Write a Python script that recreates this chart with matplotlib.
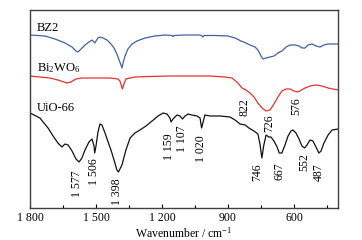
import matplotlib

matplotlib.use("Agg")
import matplotlib.pyplot as plt
from matplotlib.ticker import FixedLocator

# FT-IR spectra, intensity in arbitrary units (offset per sample)
uio_wn = [1800, 1755, 1718, 1695, 1673, 1655, 1641, 1627, 1609, 1591, 1577, 1564, 1550, 1532,
          1518, 1509, 1506, 1500, 1491, 1482, 1473, 1459, 1445, 1432, 1418, 1405, 1398, 1382,
          1364, 1345, 1323, 1300, 1273, 1245, 1218, 1195, 1177, 1164, 1159, 1150, 1132, 1118,
          1107, 1095, 1082, 1064, 1041, 1027, 1020, 1013, 1005, 982, 936, 891, 868, 845, 822,
          805, 782, 764, 754, 746, 738, 727, 714, 705, 691, 677, 667, 655, 641, 627, 614, 605,
          591, 577, 564, 552, 541, 527, 514, 500, 487, 477, 464, 445, 427, 400]
uio_val = [95, 90, 80, 72, 65, 61, 64, 63, 57, 49, 46, 50, 58, 66,
           69, 62, 55, 62, 76, 84, 83, 75, 66, 58, 48, 38, 36, 43,
           58, 70, 75, 78, 82, 87, 92, 95, 94, 90, 86, 89, 93, 92,
           89, 92, 94, 93, 92, 90, 80, 86, 93, 92, 92, 91, 88, 84, 83,
           80, 77, 74, 63, 50, 62, 73, 71, 71, 67, 61, 55, 55, 63, 72, 77, 78,
           75, 69, 62, 60, 63, 68, 67, 61, 55, 57, 65, 73, 78, 79]

bzw_wn = [1800, 1755, 1709, 1673, 1645, 1632, 1614, 1591, 1564, 1527, 1482, 1436, 1400, 1391,
          1384, 1380, 1373, 1364, 1323, 1255, 1164, 1073, 982, 914, 882, 855, 836, 818, 800,
          782, 764, 745, 727, 709, 691, 673, 655, 636, 618, 600, 586, 573, 550, 527, 500, 473,
          445, 423, 400]
bzw_val = [132, 131, 130, 128, 126, 125, 126, 129, 130, 130, 130, 130, 129, 127,
           122, 119, 124, 129, 131, 131.5, 132, 132, 132, 131, 130, 125, 120, 118, 115,
           111, 105, 100, 97, 98, 104, 111, 117, 119, 119, 117, 116, 117, 120, 122, 123, 122,
           120, 119, 118]

bz2_wn = [1800, 1732, 1686, 1641, 1609, 1591, 1582, 1568, 1550, 1532, 1518, 1509, 1505, 1500,
          1491, 1482, 1468, 1450, 1432, 1418, 1405, 1395, 1388, 1382, 1377, 1368, 1355, 1336,
          1314, 1277, 1232, 1186, 1155, 1150, 1145, 1095, 1027, 1018, 1014, 1009, 959, 900,
          868, 841, 818, 800, 777, 764, 750, 741, 727, 709, 691, 673, 655, 636, 618, 595, 577,
          564, 550, 536, 518, 500, 482, 464, 445, 400]
bz2_val = [173, 172, 169, 165, 161, 157, 156, 159, 163, 166, 168, 166, 165, 167,
           170, 171, 170, 168, 164, 160, 154, 148, 144, 140, 145, 152, 159, 164,
           167, 170, 172, 173, 172.5, 171.5, 172.5, 173, 173, 172, 171, 172.5, 172.5, 172,
           170, 167, 165, 163, 161, 158, 152, 149, 150, 151, 152, 155, 157, 161, 163, 163, 162,
           160, 160, 163, 164, 162, 161, 163, 164, 164]

# peak labels: text, wavenumber position, top of text (same units as intensity)
peak_text = ["1 577", "1 506", "1 398", "1 159", "1 107", "1 020", "822", "726", "576",
             "746", "667", "552", "487"]
peak_x = [1586, 1509, 1405, 1168, 1109, 1023, 823, 712, 591, 768, 668, 555, 486]
peak_y = [38, 50, 30, 75, 83, 73, 110, 94, 111, 45, 46, 55, 45]

sample_names = ["BZ2", "Bi$_2$WO$_6$", "UiO-66"]
sample_y = [180, 140, 100]

major_ticks = [1800, 1500, 1200, 900, 600]
major_labels = ["1 800", "1 500", "1 200", "900", "600"]
minor_ticks = [1650, 1350, 1050, 750, 450]

plt.rcParams.update({
    "font.family": ["Liberation Serif", "DejaVu Serif"],
    "mathtext.fontset": "custom",
    "mathtext.rm": "Liberation Serif",
    "mathtext.it": "Liberation Serif:italic",
    "mathtext.default": "regular",
    "font.size": 8.5,
})

fig = plt.figure(figsize=(3.62, 2.40), dpi=100)
ax = fig.add_axes([30 / 362, 32 / 240, 308 / 362, 198 / 240])

ax.plot(bz2_wn, bz2_val, color="#3F5FAE", lw=0.9)
ax.plot(bzw_wn, bzw_val, color="#E5322D", lw=0.9)
ax.plot(uio_wn, uio_val, color="#111111", lw=0.9)

for name, y in zip(sample_names, sample_y):
    ax.text(1768, y, name, ha="left", va="center", fontsize=9)

for t, x, y in zip(peak_text, peak_x, peak_y):
    ax.text(x, y, t, rotation=90, ha="center", va="top", fontsize=8.5)

ax.set_xlim(1800, 400)
ax.set_ylim(0, 198)
ax.xaxis.set_major_locator(FixedLocator(major_ticks))
ax.xaxis.set_minor_locator(FixedLocator(minor_ticks))
ax.set_xticklabels(major_labels)
ax.tick_params(axis="x", which="major", direction="in", length=3, width=0.8, pad=3)
ax.tick_params(axis="x", which="minor", direction="in", length=2, width=0.8)
ax.set_yticks([])
ax.set_xlabel("Wavenumber / cm$^{-1}$", labelpad=1)

for s in ax.spines.values():
    s.set_color("#404040")
    s.set_linewidth(1.0)

fig.savefig("out.png", dpi=100)
